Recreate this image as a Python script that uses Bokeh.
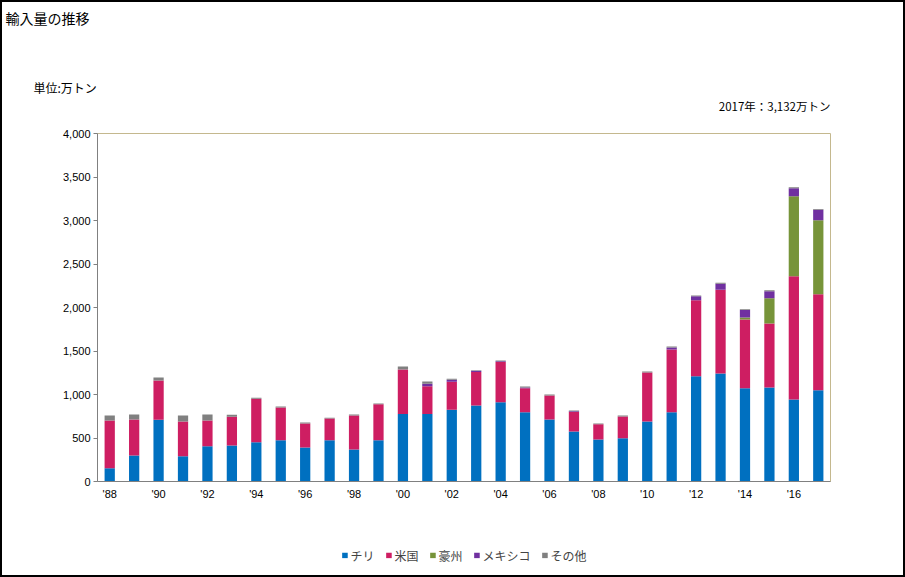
from bokeh.plotting import figure
from bokeh.layouts import column
from bokeh.models import (FixedTicker, NumeralTickFormatter, Legend, LegendItem,
                          Title, Range1d, ColumnDataSource)
from bokeh.embed import file_html
from bokeh.resources import INLINE

years = list(range(1988, 2018))
chile = [153, 300, 710, 290, 405, 415, 450, 475, 390, 475, 368, 475, 775, 775, 825,
         875, 912, 797, 713, 575, 483, 498, 690, 797, 1210, 1240, 1073, 1080, 942, 1050]
usa = [548, 413, 450, 400, 295, 330, 502, 375, 276, 249, 390, 413, 512, 320, 322,
       385, 462, 275, 275, 225, 175, 250, 563, 720, 873, 965, 790, 736, 1418, 1103]
australia = [0, 0, 0, 0, 0, 0, 0, 0, 0, 0, 0, 0, 0, 0, 0,
             0, 0, 0, 0, 0, 0, 0, 0, 0, 0, 0, 23, 291, 920, 851]
mexico = [0, 0, 0, 0, 0, 0, 0, 0, 0, 0, 0, 0, 0, 30, 23,
          12, 8, 8, 0, 8, 0, 0, 0, 23, 46, 69, 84, 81, 91, 120]
others = [58, 57, 35, 68, 70, 22, 12, 12, 12, 10, 12, 8, 35, 23, 12,
          8, 8, 12, 12, 8, 8, 10, 10, 12, 8, 11, 11, 11, 12, 8]
series_names = ["チリ", "米国", "豪州", "メキシコ", "その他"]
colors = ["#0070C0", "#CE1E62", "#779439", "#7030A0", "#808080"]
y_ticks = [0, 500, 1000, 1500, 2000, 2500, 3000, 3500, 4000]
x_tick_years = list(range(1988, 2018, 2))
x_tick_labels = ["'%02d" % (y % 100) for y in x_tick_years]

title_text = "輸入量の推移"
unit_text = "単位:万トン"
note_text = "2017年：3,132万トン"

keys = ["chile", "usa", "australia", "mexico", "others"]
source = ColumnDataSource(dict(year=years, chile=chile, usa=usa, australia=australia,
                               mexico=mexico, others=others))

jp_font = "Noto Sans CJK JP"

p = figure(frame_width=733, frame_height=348, output_backend="svg", toolbar_location=None,
           x_range=Range1d(1987.5, 2017.5), y_range=Range1d(0, 4000),
           min_border_left=95, min_border_right=73, min_border_top=131,
           min_border_bottom=54)
p.background_fill_color = "white"
p.border_fill_color = "white"
p.outline_line_color = "#C4B88E"
p.outline_line_width = 1
p.xgrid.grid_line_color = None
p.ygrid.grid_line_color = None

renderers = p.vbar_stack(keys, x="year", width=0.42, color=colors, source=source,
                         line_color=None)

# y axis
p.yaxis.ticker = FixedTicker(ticks=y_ticks)
p.yaxis.formatter = NumeralTickFormatter(format="0,0")
p.yaxis.axis_line_color = "#808080"
p.yaxis.major_tick_line_color = "#808080"
p.yaxis.major_tick_out = 4
p.yaxis.major_tick_in = 0
p.yaxis.minor_tick_line_color = None
p.yaxis.major_label_text_font = "Liberation Sans"
p.yaxis.major_label_text_font_size = "11px"
p.yaxis.major_label_text_color = "#000000"
p.yaxis.major_label_standoff = 3

# x axis
p.xaxis.ticker = FixedTicker(ticks=x_tick_years)
p.xaxis.major_label_overrides = {y: l for y, l in zip(x_tick_years, x_tick_labels)}
p.xaxis.axis_line_color = "#808080"
p.xaxis.axis_line_width = 1
p.xaxis.major_tick_line_color = None
p.xaxis.major_tick_out = 0
p.xaxis.major_tick_in = 0
p.xaxis.minor_tick_line_color = None
p.xaxis.major_label_text_font = "Liberation Sans"
p.xaxis.major_label_text_font_size = "11px"
p.xaxis.major_label_text_color = "#000000"
p.xaxis.major_label_standoff = 6

# texts above the plot (first added = closest to the frame)
def above_text(text, align, offset, standoff, size):
    p.add_layout(Title(text=text, align=align, offset=offset, standoff=standoff,
                       text_font=jp_font, text_font_size=size, text_font_style="normal",
                       text_color="#000000"), "above")

above_text(" ", "left", 0, 1, "12px")            # spacer
above_text(note_text, "right", 0, 0, "11.5px")
above_text(unit_text, "left", -64, 0, "12px")
above_text(" ", "left", 0, 30, "12px")           # spacer
above_text(title_text, "left", -92, 0, "14px")

# legend strip below the chart (hidden copies of the series supply the swatches)
p2 = figure(width=901, height=40, output_backend="svg", toolbar_location=None,
            x_range=Range1d(1987.5, 2017.5), y_range=Range1d(0, 4000), min_border=0,
            x_axis_type=None, y_axis_type=None)
p2.outline_line_color = None
p2.background_fill_color = "white"
p2.border_fill_color = "white"
p2.xgrid.grid_line_color = None
p2.ygrid.grid_line_color = None
legend_renderers = p2.vbar_stack(keys, x="year", width=0.42, color=colors, source=source,
                                 line_color=None)
for r in legend_renderers:
    r.visible = False

legend = Legend(items=[LegendItem(label=n, renderers=[r])
                       for n, r in zip(series_names, legend_renderers)],
                orientation="horizontal", location="center",
                glyph_width=7, glyph_height=7, label_standoff=3, spacing=10,
                padding=0, margin=0, border_line_color=None,
                background_fill_alpha=0, inactive_fill_alpha=0,
                label_text_font=jp_font, label_text_font_size="12px",
                label_height=14)
p2.add_layout(legend, "center")

layout = column(p, p2, spacing=0)
layout.styles = {"border": "2px solid black", "background-color": "white"}

open("out.html", "w").write(file_html(layout, INLINE))
